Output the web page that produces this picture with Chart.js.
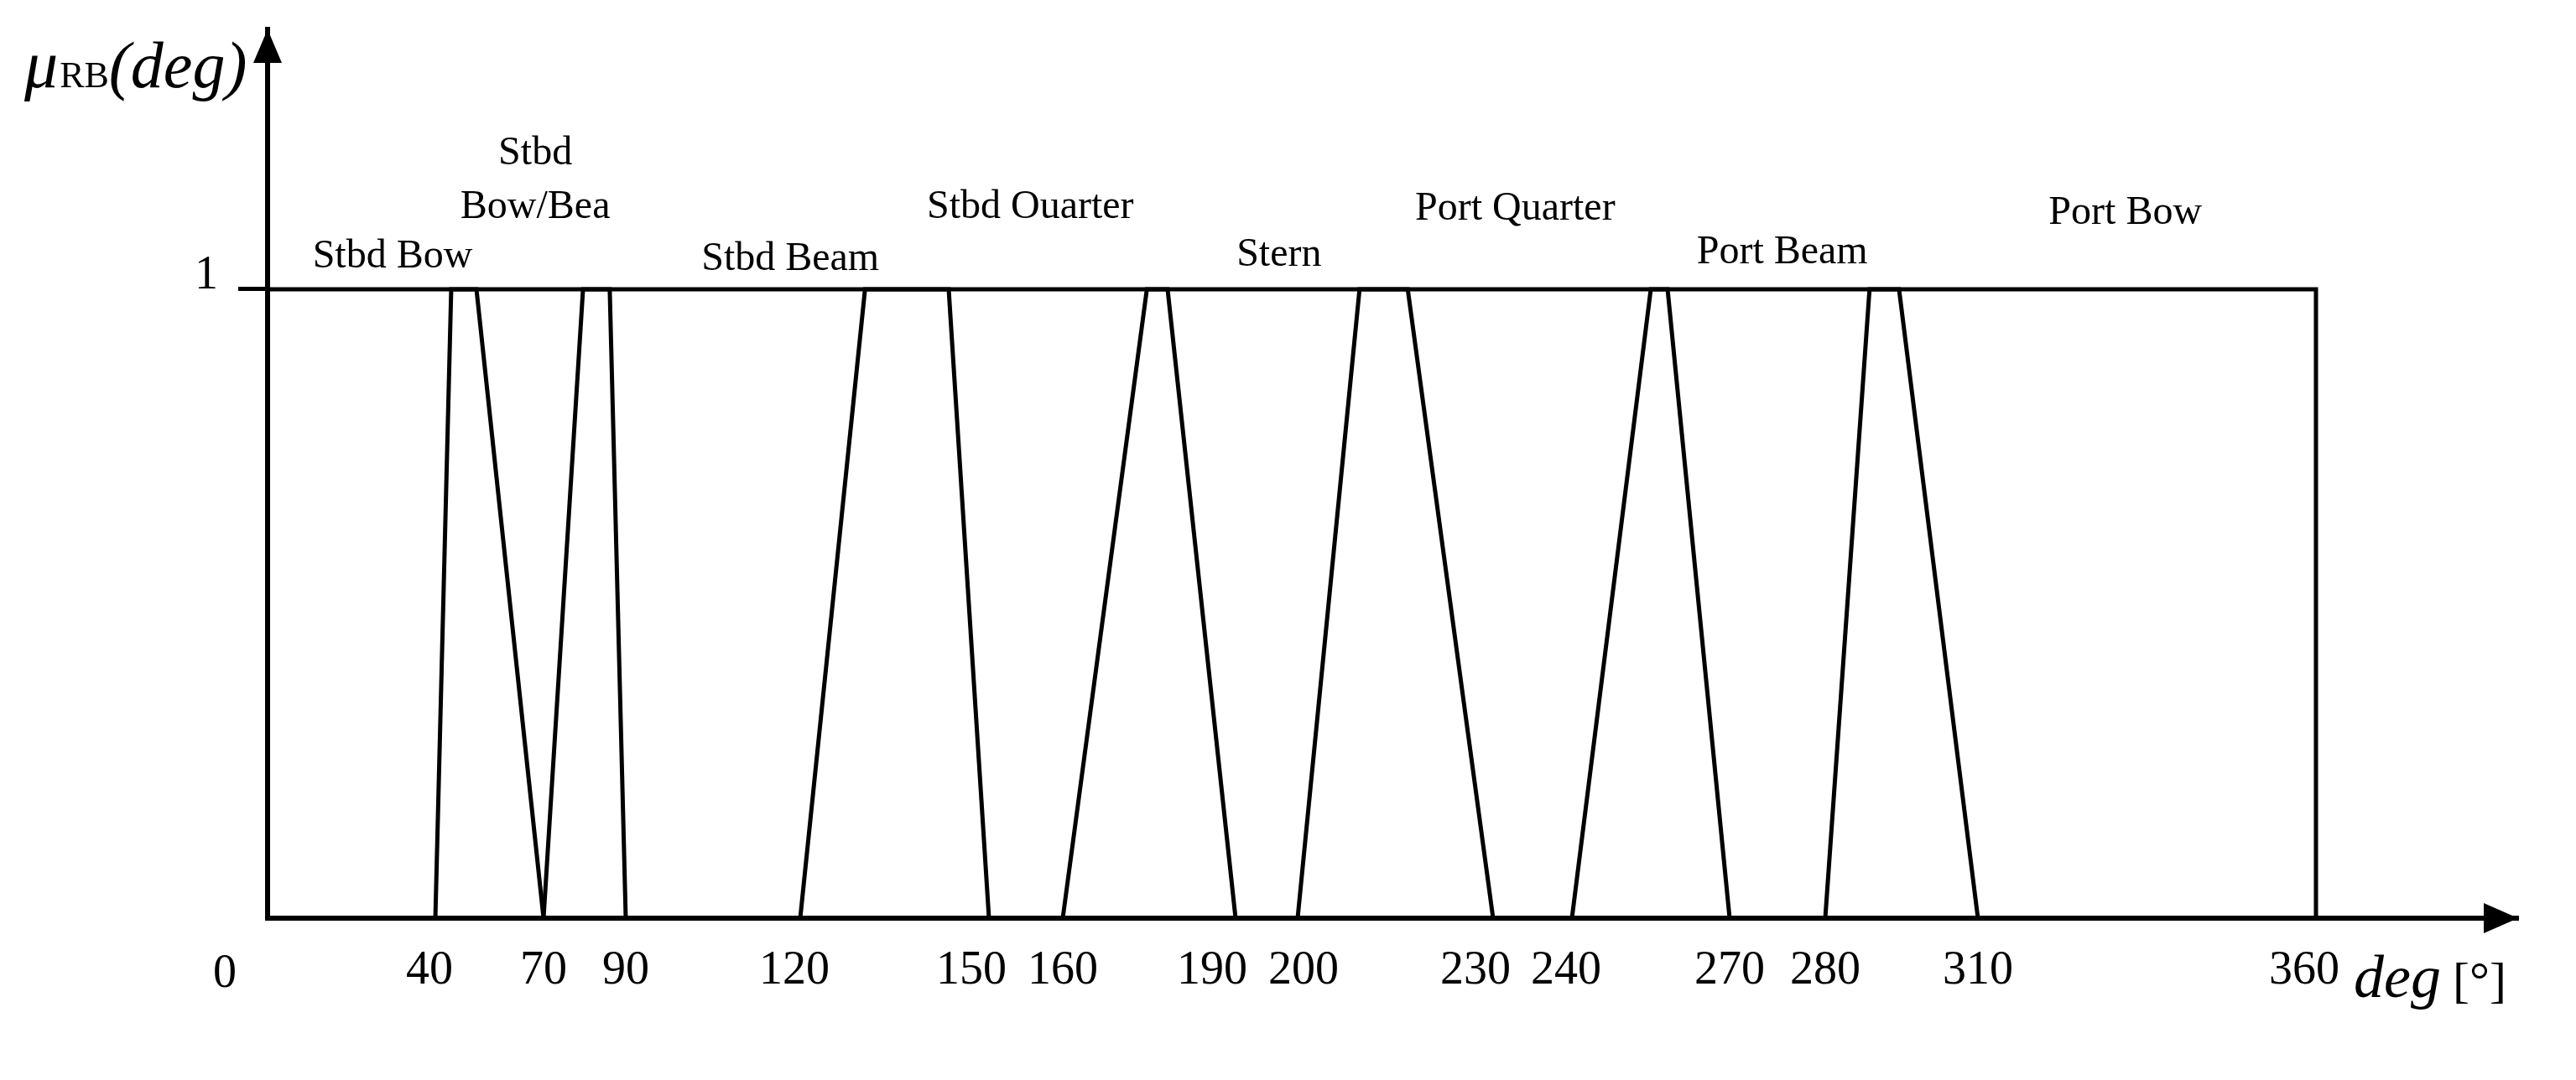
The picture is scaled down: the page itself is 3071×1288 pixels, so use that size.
<!DOCTYPE html>
<html>
<head>
<meta charset="utf-8">
<title>Relative bearing membership functions</title>
<script src="https://cdn.jsdelivr.net/npm/chart.js@4.4.1/dist/chart.umd.min.js"></script>
<style>
  html, body { margin: 0; padding: 0; background: #fff; }
  canvas { display: block; }
</style>
</head>
<body>
<canvas id="mfChart" width="3071" height="1288"></canvas>
<script>
// ---- data (degrees / membership) ----
const tickDegrees = [40, 70, 90, 120, 150, 160, 190, 200, 230, 240, 270, 280, 310, 360];
const sectorNames = ['Stbd Bow', ['Stbd', 'Bow/Bea'], 'Stbd Beam', 'Stbd Ouarter', 'Stern', 'Port Quarter', 'Port Beam', 'Port Bow'];
// trapezoid corners of each sector: mu=0 -> mu=1 -> mu=1 -> mu=0
const zeroStart = [0, 40, 70, 120, 160, 200, 240, 280];
const fullStart = [0, 44.4, 79.6, 130.3, 174.6, 209.5, 255, 288.7];
const fullEnd = [51.4, 86.1, 143.6, 178.2, 216.9, 258.2, 294.5, 360];
const zeroEnd = [70, 90, 150, 190, 230, 270, 310, 360];

// ---- schematic (non-uniform) degree axis, as spaced in the figure ----
const axisStops = [0, 40, 70, 90, 120, 150, 160, 190, 200, 230, 240, 270, 280, 310, 360, 400];
const axisStopSpacing = [0, 200, 329, 427, 635, 860, 948, 1154, 1228, 1461, 1555, 1743, 1857, 2039, 2442, 2683];

class SchematicScale extends Chart.LinearScale {
    toDecimal(v) {
        const total = axisStopSpacing[axisStopSpacing.length - 1];
        let i = 1;
        while (i < axisStops.length - 1 && v > axisStops[i]) i++;
        const t = (v - axisStops[i - 1]) / (axisStops[i] - axisStops[i - 1]);
        return (axisStopSpacing[i - 1] + t * (axisStopSpacing[i] - axisStopSpacing[i - 1])) / total;
    }
    getPixelForValue(value) {
        if (value === null || value === undefined || isNaN(value)) return NaN;
        return this.getPixelForDecimal(this.toDecimal(value));
    }
    getValueForPixel(pixel) {
        const total = axisStopSpacing[axisStopSpacing.length - 1];
        const d = this.getDecimalForPixel(pixel) * total;
        let i = 1;
        while (i < axisStops.length - 1 && d > axisStopSpacing[i]) i++;
        const t = (d - axisStopSpacing[i - 1]) / (axisStopSpacing[i] - axisStopSpacing[i - 1]);
        return axisStops[i - 1] + t * (axisStops[i] - axisStops[i - 1]);
    }
}
SchematicScale.id = 'schematic';
SchematicScale.defaults = {};
Chart.register(SchematicScale);

const serif = '"Liberation Serif", "Times New Roman", serif';

// the figure sets some degree labels a little off their mark; spaces nudge them
const labelNudge = { 40: ' ', 120: ' ', 150: '   ', 190: '    ', 230: '   ', 240: ' ', 360: '  ' };
const leadNudge = { 200: ' ' };

// where the sector names sit (degree, membership level per text line)
const sectorLabelAnchors = [
    { at: 29.8, levels: [1.035] },
    { at: 67.7, levels: [1.199, 1.113] },
    { at: 118.3, levels: [1.03] },
    { at: 155.6, levels: [1.113] },
    { at: 197, levels: [1.037] },
    { at: 232.8, levels: [1.111] },
    { at: 275.5, levels: [1.041] },
    { at: 331.8, levels: [1.104] }
];

const figureDecor = {
    id: 'figureDecor',
    afterDraw(chart) {
        const { ctx, chartArea: a, scales } = chart;
        const x = scales.x, y = scales.y;
        ctx.save();
        ctx.fillStyle = '#000';

        // arrow heads on both axes
        ctx.beginPath();
        ctx.moveTo(a.left, a.top);
        ctx.lineTo(a.left - 17, a.top + 40);
        ctx.lineTo(a.left + 17, a.top + 40);
        ctx.closePath();
        ctx.fill();
        ctx.beginPath();
        ctx.moveTo(a.right, a.bottom);
        ctx.lineTo(a.right - 41, a.bottom - 18);
        ctx.lineTo(a.right - 41, a.bottom + 18);
        ctx.closePath();
        ctx.fill();

        // sector names
        ctx.font = '48px ' + serif;
        ctx.textAlign = 'center';
        ctx.textBaseline = 'alphabetic';
        sectorNames.forEach((name, i) => {
            const lines = Array.isArray(name) ? name : [name];
            const anchor = sectorLabelAnchors[i];
            lines.forEach((txt, j) => {
                ctx.fillText(txt, x.getPixelForValue(anchor.at), y.getPixelForValue(anchor.levels[j]));
            });
        });

        // origin label
        ctx.font = '56px ' + serif;
        ctx.textAlign = 'right';
        ctx.fillText('0', a.left - 37, a.bottom + 82);

        // y axis title: mu_RB(deg)
        ctx.textAlign = 'left';
        let tx = a.left - 290;
        const ty = a.top + 69;
        ctx.font = 'italic 80px ' + serif;
        ctx.fillText('\u03BC', tx, ty);
        tx += ctx.measureText('\u03BC').width + 2;
        ctx.font = '44px ' + serif;
        ctx.fillText('RB', tx, ty);
        tx += ctx.measureText('RB').width;
        ctx.font = 'italic 78px ' + serif;
        ctx.fillText('(deg)', tx, ty);

        // x axis title: deg [°]
        let xx = a.right - 196;
        const xy = a.bottom + 94;
        ctx.font = 'italic 72px ' + serif;
        ctx.fillText('deg', xx, xy);
        xx += ctx.measureText('deg').width + 14;
        ctx.font = '60px ' + serif;
        ctx.fillText('[\u00B0]', xx, xy);

        ctx.restore();
    }
};

const datasets = sectorNames.map((name, i) => ({
    label: Array.isArray(name) ? name.join(' ') : name,
    data: [
        { x: zeroStart[i], y: 0 },
        { x: fullStart[i], y: 1 },
        { x: fullEnd[i], y: 1 },
        { x: zeroEnd[i], y: 0 }
    ],
    borderColor: '#000',
    borderWidth: 5,
    pointRadius: 0,
    tension: 0,
    fill: false,
    clip: false
}));

new Chart(document.getElementById('mfChart').getContext('2d'), {
    type: 'line',
    data: { datasets: datasets },
    options: {
        responsive: false,
        animation: false,
        events: [],
        layout: { padding: { left: 0, top: 35, right: 69, bottom: 0 } },
        plugins: {
            legend: { display: false },
            tooltip: { enabled: false }
        },
        scales: {
            x: {
                type: 'schematic',
                min: 0,
                max: 400,
                afterBuildTicks: s => { s.ticks = tickDegrees.map(v => ({ value: v })); },
                afterFit: s => { s.height = 193; s.paddingLeft = 0; s.paddingRight = 0; },
                ticks: {
                    autoSkip: false,
                    maxRotation: 0,
                    minRotation: 0,
                    padding: 30,
                    color: '#000',
                    font: { family: serif, size: 56 },
                    callback: v => (leadNudge[v] || '') + String(v) + (labelNudge[v] || '')
                },
                grid: { display: false, drawTicks: false },
                border: { display: true, color: '#000', width: 6 }
            },
            y: {
                type: 'linear',
                min: 0,
                max: 1.4133,
                afterBuildTicks: s => { s.ticks = [{ value: 1 }]; },
                afterFit: s => { s.width = 319; s.paddingTop = 0; s.paddingBottom = 0; },
                ticks: {
                    padding: 24,
                    labelOffset: -16,
                    color: '#000',
                    font: { family: serif, size: 56 },
                    callback: v => String(v)
                },
                grid: { display: true, drawOnChartArea: false, drawTicks: true, tickLength: 35, color: '#000', lineWidth: 5 },
                border: { display: true, color: '#000', width: 6 }
            }
        }
    },
    plugins: [figureDecor]
});
</script>
</body>
</html>
